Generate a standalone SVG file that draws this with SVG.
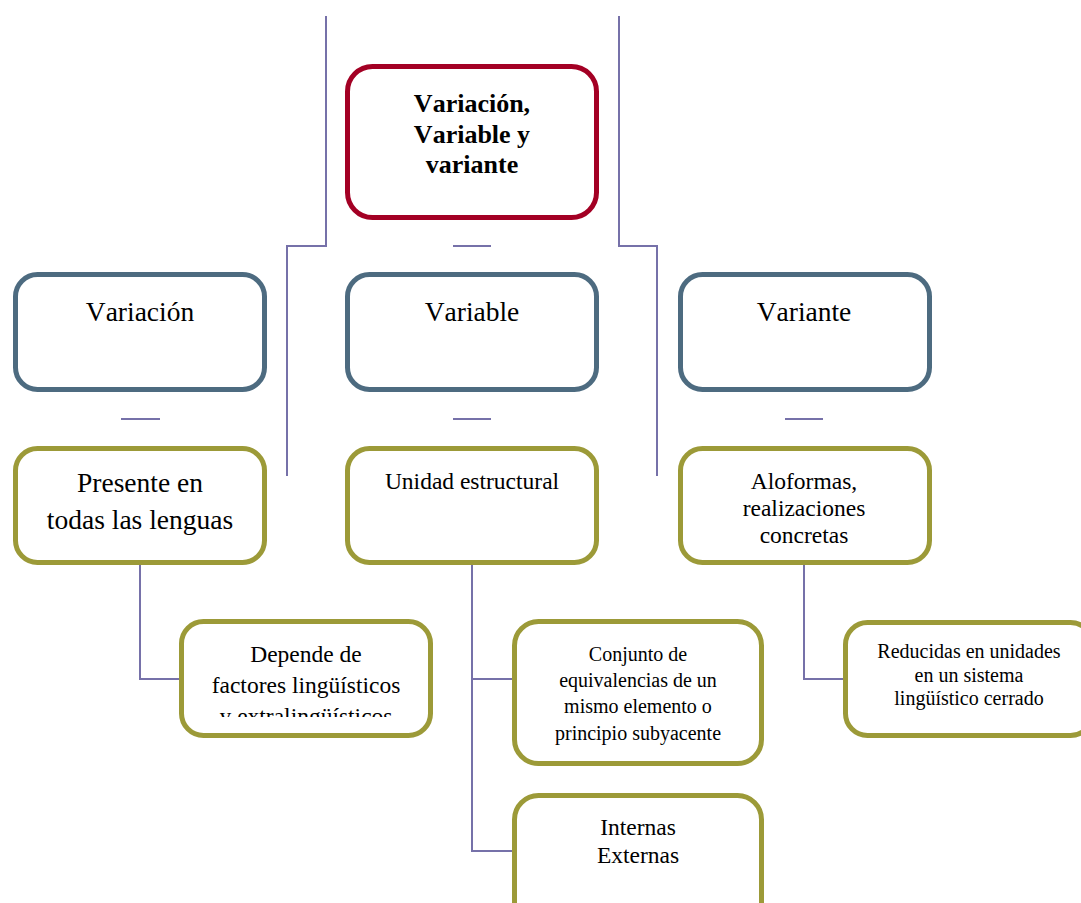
<svg xmlns="http://www.w3.org/2000/svg" width="1081" height="903" viewBox="0 0 1081 903">
<defs>
<style>
.red{fill:#fff;stroke:#a30024;stroke-width:5}
.blue{fill:#fff;stroke:#4d6b80;stroke-width:5}
.olive{fill:#fff;stroke:#9c9a38;stroke-width:5}
.ln{fill:none;stroke:#7671a9;stroke-width:2}
text{font-family:"Liberation Serif","Times New Roman",serif;fill:#000;text-anchor:middle;font-kerning:none}
.b{font-weight:bold;font-size:26px}
.l{font-size:27.5px}
.m{font-size:23.5px}
.s{font-size:20px}
</style>
<clipPath id="clipDep"><rect x="180" y="620" width="254" height="97"/></clipPath>
</defs>
<rect width="1081" height="903" fill="#fff"/>
<g id="connectors">
<polyline class="ln" points="326,16 326,246 287,246 287,476"/>
<polyline class="ln" points="619,16 619,246 657,246 657,476"/>
<line class="ln" x1="453" y1="246" x2="491" y2="246"/>
<line class="ln" x1="121" y1="419" x2="160" y2="419"/>
<line class="ln" x1="453" y1="419" x2="491" y2="419"/>
<line class="ln" x1="785" y1="419" x2="823" y2="419"/>
<polyline class="ln" points="140,565 140,679 181,679"/>
<polyline class="ln" points="472,565 472,851 514,851"/>
<line class="ln" x1="472" y1="679" x2="514" y2="679"/>
<polyline class="ln" points="804,565 804,679 845,679"/>
</g>
<g id="root">
<rect class="red" x="347.5" y="66.5" width="249" height="151" rx="25"/>
<text class="b" x="472" y="112">Variación,</text>
<text class="b" x="472" y="143">Variable y</text>
<text class="b" x="472" y="173">variante</text>
</g>
<g id="variacion">
<rect class="blue" x="15.5" y="274.5" width="249" height="115" rx="22"/>
<text class="l" x="140" y="321">Variación</text>
</g>
<g id="variable">
<rect class="blue" x="347.5" y="274.5" width="249" height="115" rx="22"/>
<text class="l" x="472" y="321">Variable</text>
</g>
<g id="variante">
<rect class="blue" x="680.5" y="274.5" width="249" height="115" rx="22"/>
<text class="l" x="804" y="321">Variante</text>
</g>
<g id="presente">
<rect class="olive" x="15.5" y="448.5" width="249" height="114" rx="22"/>
<text class="l" x="140" y="492">Presente en</text>
<text class="l" x="140" y="529">todas las lenguas</text>
</g>
<g id="unidad">
<rect class="olive" x="347.5" y="448.5" width="249" height="114" rx="22"/>
<text class="m" x="472" y="489">Unidad estructural</text>
</g>
<g id="aloformas">
<rect class="olive" x="680.5" y="448.5" width="249" height="114" rx="22"/>
<text class="m" x="804" y="489">Aloformas,</text>
<text class="m" x="804" y="516">realizaciones</text>
<text class="m" x="804" y="543">concretas</text>
</g>
<g id="depende">
<rect class="olive" x="181.5" y="621.5" width="249" height="114" rx="22"/>
<g clip-path="url(#clipDep)">
<text class="m" x="306" y="662">Depende de</text>
<text class="m" x="306" y="693">factores lingüísticos</text>
<text class="m" x="306" y="724">y extralingüísticos</text>
</g>
</g>
<g id="conjunto">
<rect class="olive" x="514.5" y="621.5" width="247" height="142" rx="24"/>
<text class="s" x="638" y="661">Conjunto de</text>
<text class="s" x="638" y="687">equivalencias de un</text>
<text class="s" x="638" y="713">mismo elemento o</text>
<text class="s" x="638" y="740">principio subyacente</text>
</g>
<g id="internas">
<rect class="olive" x="514.5" y="795.5" width="247" height="140" rx="24"/>
<text class="m" x="638" y="835">Internas</text>
<text class="m" x="638" y="863">Externas</text>
</g>
<g id="reducidas">
<rect class="olive" x="845.5" y="622.5" width="247" height="113" rx="22"/>
<text class="s" x="969" y="658">Reducidas en unidades</text>
<text class="s" x="969" y="682">en un sistema</text>
<text class="s" x="969" y="705">lingüístico cerrado</text>
</g>
</svg>
